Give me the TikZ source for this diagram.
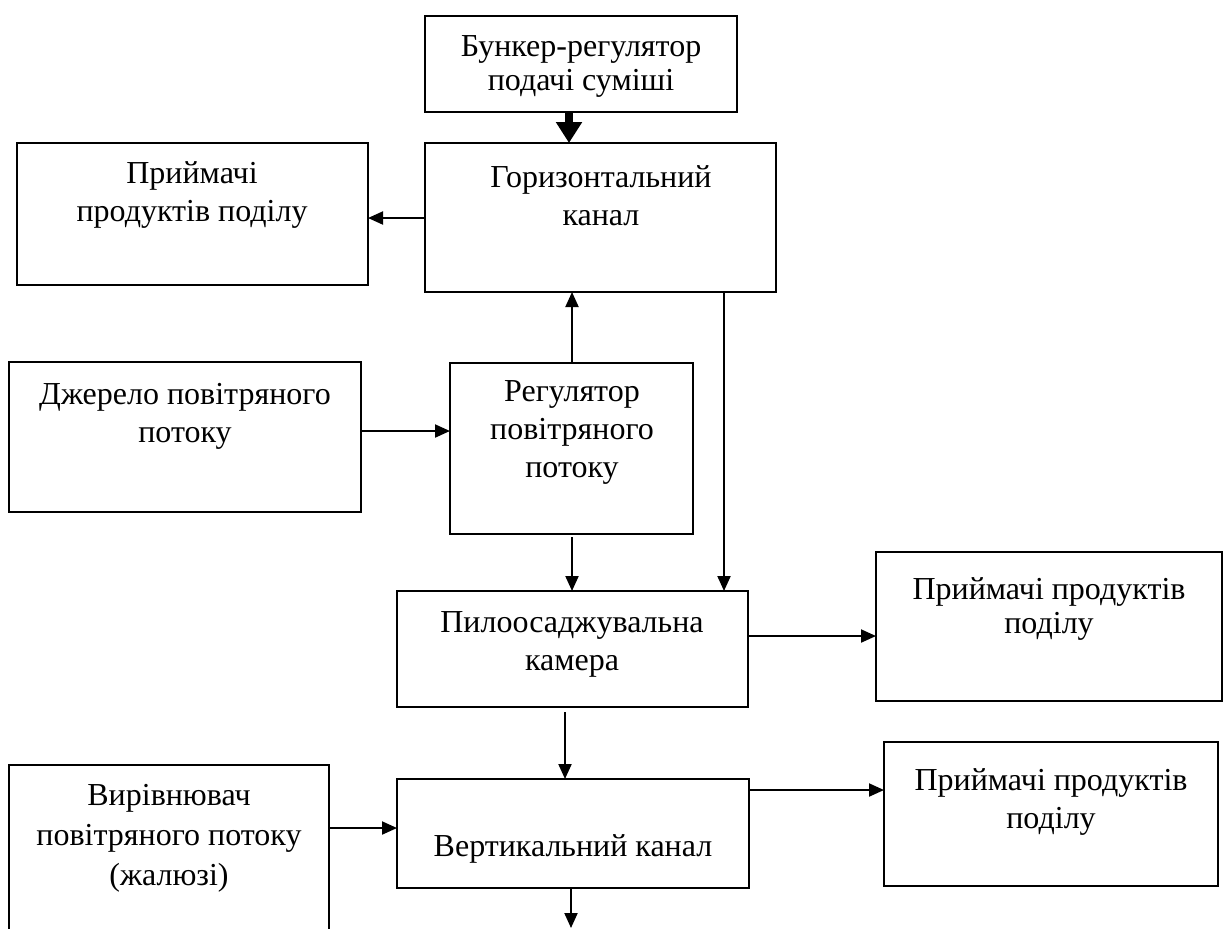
\documentclass[tikz,border=0pt]{standalone}
\usepackage{fontspec}
\setmainfont{Liberation Serif}
\usetikzlibrary{fit,arrows.meta}
\begin{document}
\begin{tikzpicture}[x=0.5pt,y=-0.5pt,
  box/.style={draw,line width=1pt,inner sep=0pt,outer sep=0pt},
  txt/.style={align=center,inner sep=0pt,font=\fontsize{16pt}{19pt}\selectfont},
  arr/.style={line width=1pt,-{Triangle[length=7.5pt,width=6.5pt]}},
  thickarr/.style={line width=4pt,-{Triangle[length=10.5pt,width=12.5pt]}}]
\clip (0,0) rectangle (1224,928);
% boxes
\node[box,fit={(425,16) (737,112)}] (bunker) {};
\node[box,fit={(425,143) (776,292)}] (horiz) {};
\node[box,fit={(17,143) (368,285)}] (recv1) {};
\node[box,fit={(9,362) (361,512)}] (source) {};
\node[box,fit={(450,363) (693,534)}] (regul) {};
\node[box,fit={(397,591) (748,707)}] (pylo) {};
\node[box,fit={(876,552) (1222,701)}] (recv2) {};
\node[box,fit={(9,765) (329,950)}] (level) {};
\node[box,fit={(397,779) (749,888)}] (vert) {};
\node[box,fit={(884,742) (1218,886)}] (recv3) {};
% texts
\node[txt,font=\fontsize{16pt}{17pt}\selectfont] (bunkert) at (581,66) {Бункер-регулятор\\подачі суміші};
\node[txt] (horizt) at (601,196) {Горизонтальний\\канал};
\node[txt] (recv1t) at (192,195) {Приймачі\\продуктів поділу};
\node[txt] (sourcet) at (185,416) {Джерело повітряного\\потоку};
\node[txt] (regult) at (572,432) {Регулятор\\повітряного\\потоку};
\node[txt] (pylot) at (572,644) {Пилоосаджувальна\\камера};
\node[txt,font=\fontsize{16pt}{17pt}\selectfont] (recv2t) at (1049,609) {Приймачі продуктів\\поділу};
\node[txt,font=\fontsize{16pt}{20pt}\selectfont] (levelt) at (169,838) {Вирівнювач\\повітряного потоку\\(жалюзі)};
\node[txt] (vertt) at (573,849) {Вертикальний канал};
\node[txt] (recv3t) at (1051,802) {Приймачі продуктів\\поділу};
% helper coordinates
\coordinate (xa) at (569,0);
\coordinate (xb) at (572,0);
\coordinate (xc) at (724,0);
\coordinate (xd) at (565,0);
\coordinate (xe) at (571,0);
\coordinate (ya) at (0,218);
\coordinate (yb) at (0,431);
\coordinate (yc) at (0,636);
\coordinate (yd) at (0,828);
\coordinate (ye) at (0,790);
\coordinate (bottomend) at (571,928);
% connectors
\draw[thickarr] (bunker.south -| xa) -- (horiz.north -| xa);
\draw[arr] (horiz.west |- ya) -- (recv1.east |- ya);
\draw[arr] (regul.north -| xb) -- (horiz.south -| xb);
\draw[arr] (source.east |- yb) -- (regul.west |- yb);
\draw[arr] ([yshift=-1.5pt]regul.south -| xb) -- (pylo.north -| xb);
\draw[arr] (horiz.south -| xc) -- (pylo.north -| xc);
\draw[arr] (pylo.east |- yc) -- (recv2.west |- yc);
\draw[arr] ([yshift=-2.5pt]pylo.south -| xd) -- (vert.north -| xd);
\draw[arr] (level.east |- yd) -- (vert.west |- yd);
\draw[arr] (vert.east |- ye) -- (recv3.west |- ye);
\draw[arr] (vert.south -| xe) -- (bottomend);
\end{tikzpicture}
\end{document}
